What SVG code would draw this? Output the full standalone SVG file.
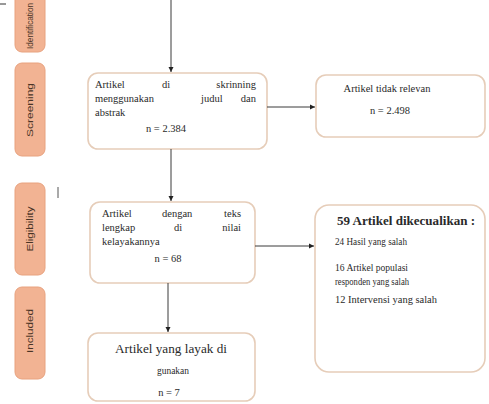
<svg xmlns="http://www.w3.org/2000/svg" width="489" height="404" viewBox="0 0 489 404">
<style>
.lab rect{fill:#f2b393;stroke:#e8a27f;stroke-width:1}
.lab text{font-family:"Liberation Sans",Arial,sans-serif;font-size:9.5px;fill:#4a3426;text-anchor:middle}
.box{fill:#ffffff;stroke:#e6cdb9;stroke-width:1.6}
.t{font-family:"Liberation Serif","Times New Roman",serif;font-size:10.5px;fill:#2a2a2a}
.tb{font-family:"Liberation Serif","Times New Roman",serif;font-size:12px;font-weight:bold;fill:#2a2a2a}
.c{text-anchor:middle}
.e{text-anchor:end}
.conn line{stroke:#3a3a3a;stroke-width:1;marker-end:url(#ah)}
</style>
<defs>
<marker id="ah" markerWidth="6" markerHeight="6" refX="5" refY="3" orient="auto" markerUnits="userSpaceOnUse">
<path d="M0,0.5 L5,3 L0,5.5 Z" fill="#222"/>
</marker>
</defs>
<rect width="489" height="404" fill="#ffffff"/>
<line x1="0" y1="4" x2="6" y2="4" stroke="#333" stroke-width="1"/>
<line x1="58" y1="187" x2="58" y2="198" stroke="#555" stroke-width="1"/>

<g id="lab-identification" class="lab">
<rect x="15" y="-20" width="30" height="72" rx="7"/>
<text transform="translate(33,26) rotate(-90)" style="font-size:8.5px" textLength="46" lengthAdjust="spacingAndGlyphs">Identification</text>
</g>
<g id="lab-screening" class="lab">
<rect x="15" y="63" width="30" height="93" rx="7"/>
<text transform="translate(33,110) rotate(-90)" textLength="54" lengthAdjust="spacingAndGlyphs">Screening</text>
</g>
<g id="lab-eligibility" class="lab">
<rect x="15" y="183" width="30" height="92" rx="7"/>
<text transform="translate(33,229) rotate(-90)" textLength="45" lengthAdjust="spacingAndGlyphs">Eligibility</text>
</g>
<g id="lab-included" class="lab">
<rect x="15" y="287" width="30" height="92" rx="7"/>
<text transform="translate(33,331) rotate(-90)" textLength="44" lengthAdjust="spacingAndGlyphs">Included</text>
</g>

<g id="n-screening">
<rect class="box" x="88" y="73" width="179" height="76" rx="10"/>
<text class="t" x="95" y="88">Artikel</text>
<text class="t" x="162" y="88">di</text>
<text class="t e" x="256" y="88">skrinning</text>
<text class="t" x="95" y="102">menggunakan</text>
<text class="t" x="201" y="102">judul</text>
<text class="t e" x="256" y="102">dan</text>
<text class="t" x="95" y="116">abstrak</text>
<text class="t c" x="166" y="132">n = 2.384</text>
</g>

<g id="n-excluded1">
<rect class="box" x="316" y="75" width="169" height="62" rx="10"/>
<text class="t c" x="387" y="92">Artikel tidak relevan</text>
<text class="t c" x="390" y="114">n = 2.498</text>
</g>

<g id="n-eligibility">
<rect class="box" x="90" y="202" width="165" height="81" rx="10"/>
<text class="t" x="102" y="217">Artikel</text>
<text class="t" x="162" y="217">dengan</text>
<text class="t e" x="241" y="217">teks</text>
<text class="t" x="102" y="231">lengkap</text>
<text class="t" x="174" y="231">di</text>
<text class="t e" x="241" y="231">nilai</text>
<text class="t" x="102" y="245">kelayakannya</text>
<text class="t c" x="168" y="262">n = 68</text>
</g>

<g id="n-excluded2">
<rect class="box" x="315" y="205" width="170" height="167" rx="14"/>
<text class="tb" x="337" y="225" textLength="138" lengthAdjust="spacingAndGlyphs">59 Artikel dikecualikan :</text>
<text class="t" x="335" y="245" textLength="72" lengthAdjust="spacingAndGlyphs">24 Hasil yang salah</text>
<text class="t" x="335" y="271" textLength="73" lengthAdjust="spacingAndGlyphs">16 Artikel populasi</text>
<text class="t" x="335" y="285" textLength="74" lengthAdjust="spacingAndGlyphs">responden yang salah</text>
<text class="t" x="335" y="303" textLength="102" lengthAdjust="spacingAndGlyphs">12 Intervensi yang salah</text>
</g>

<g id="n-included">
<rect class="box" x="88" y="333" width="167" height="68" rx="10"/>
<text class="t c" x="171" y="353" style="font-size:12px" textLength="112" lengthAdjust="spacingAndGlyphs">Artikel yang layak di</text>
<text class="t c" x="173" y="374" textLength="32" lengthAdjust="spacingAndGlyphs">gunakan</text>
<text class="t c" x="169" y="396">n = 7</text>
</g>

<g id="connectors" class="conn">
<line x1="171" y1="0" x2="171" y2="72"/>
<line x1="171" y1="149" x2="171" y2="201"/>
<line x1="168" y1="283" x2="168" y2="332"/>
<line x1="267" y1="107" x2="315" y2="107"/>
<line x1="255" y1="246" x2="314" y2="246"/>
</g>
</svg>
